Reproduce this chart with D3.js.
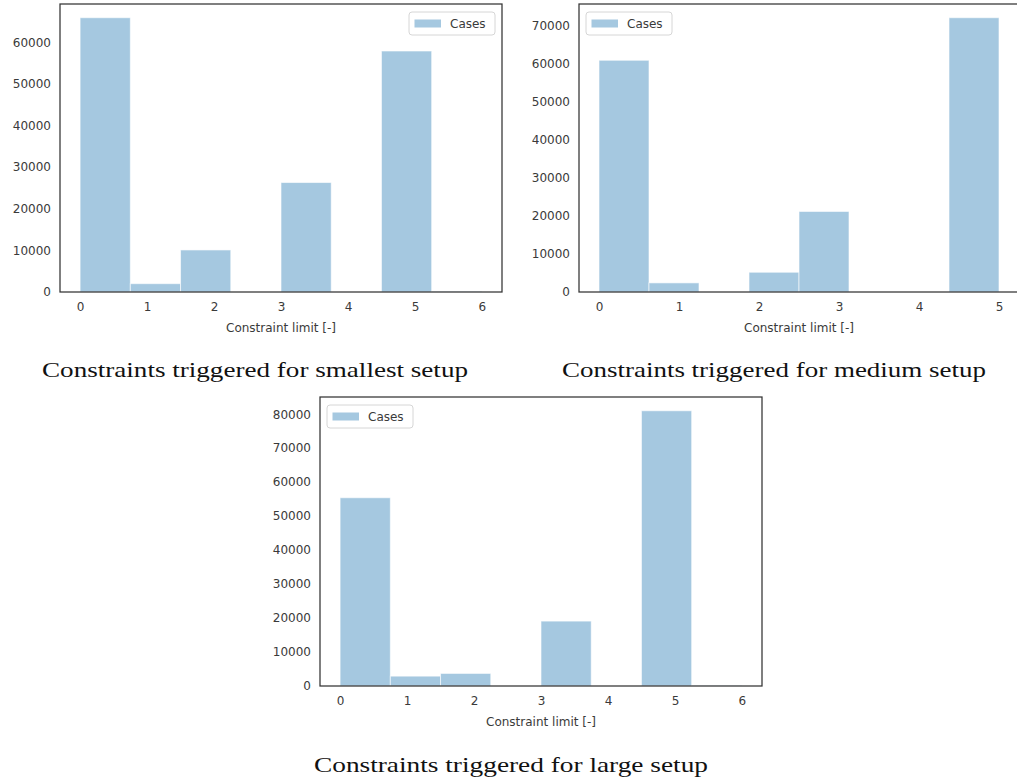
<!DOCTYPE html>
<html>
<head>
<meta charset="utf-8">
<script src="https://cdn.jsdelivr.net/npm/d3@7/dist/d3.min.js"></script>
<style>
  html, body { margin: 0; padding: 0; background: #fff; }
  svg { display: block; }
</style>
</head>
<body>
<svg id="chart" width="1017" height="780"></svg>
<script>
// ---------------- DATA ----------------
const smallEdges  = [0, 0.75, 1.5, 2.25, 3, 3.75, 4.5, 5.25, 6];
const smallCounts = [65900, 2000, 10100, 0, 26300, 0, 57900, 150];
const smallXTicks = [0, 1, 2, 3, 4, 5, 6];
const smallYTicks = [0, 10000, 20000, 30000, 40000, 50000, 60000];

const mediumEdges  = [0, 0.625, 1.25, 1.875, 2.5, 3.125, 3.75, 4.375, 5];
const mediumCounts = [61000, 2400, 0, 5200, 21200, 0, 0, 72200];
const mediumXTicks = [0, 1, 2, 3, 4, 5];
const mediumYTicks = [0, 10000, 20000, 30000, 40000, 50000, 60000, 70000];

const largeEdges  = [0, 0.75, 1.5, 2.25, 3, 3.75, 4.5, 5.25, 6];
const largeCounts = [55400, 2900, 3700, 0, 19100, 0, 81000, 150];
const largeXTicks = [0, 1, 2, 3, 4, 5, 6];
const largeYTicks = [0, 10000, 20000, 30000, 40000, 50000, 60000, 70000, 80000];

const legendLabel = "Cases";
const xLabel = "Constraint limit [-]";
const titles = [
  "Constraints triggered for smallest setup",
  "Constraints triggered for medium setup",
  "Constraints triggered for large setup"
];

// ---------------- LAYOUT ----------------
const panels = [
  { edges: smallEdges, counts: smallCounts, xt: smallXTicks, yt: smallYTicks,
    box: {l: 60, t: 4, r: 502, b: 292}, legend: "right",
    title: titles[0], tx: 255, ty: 377, tw: 426 },
  { edges: mediumEdges, counts: mediumCounts, xt: mediumXTicks, yt: mediumYTicks,
    box: {l: 579, t: 4, r: 1019, b: 292}, legend: "left",
    title: titles[1], tx: 774, ty: 377, tw: 424 },
  { edges: largeEdges, counts: largeCounts, xt: largeXTicks, yt: largeYTicks,
    box: {l: 320, t: 397, r: 762, b: 686}, legend: "left",
    title: titles[2], tx: 511, ty: 772, tw: 394 }
];

const svg = d3.select("#chart");
const barColor = "#a5c8e0";
const textColor = "#3a3a3a";
const font = "'DejaVu Sans', sans-serif";

panels.forEach(p => {
  const {l, t, r, b} = p.box;
  const lo = p.edges[0], hi = p.edges[p.edges.length - 1];
  const pad = (hi - lo) * 0.05;
  const x = d3.scaleLinear().domain([lo - pad, hi + pad]).range([l, r]);
  const ymax = d3.max(p.counts) * 1.05;
  const y = d3.scaleLinear().domain([0, ymax]).range([b, t]);

  const g = svg.append("g");

  // bars
  const bins = p.counts.map((c, i) => ({x0: p.edges[i], x1: p.edges[i + 1], c}));
  g.append("g").selectAll("rect").data(bins.filter(d => d.c > 0)).join("rect")
    .attr("x", d => x(d.x0))
    .attr("width", d => x(d.x1) - x(d.x0))
    .attr("y", d => y(d.c))
    .attr("height", d => y(0) - y(d.c))
    .attr("fill", barColor)
    .attr("stroke", "#ffffff")
    .attr("stroke-opacity", 0.6)
    .attr("stroke-width", 1);

  // axes (no tick marks, seaborn white style)
  const xAxis = d3.axisBottom(x).tickValues(p.xt).tickSize(0).tickPadding(10).tickFormat(d3.format("d"));
  const yAxis = d3.axisLeft(y).tickValues(p.yt).tickSize(0).tickPadding(9).tickFormat(d3.format("d"));

  const gx = g.append("g").attr("transform", `translate(0,${b})`).call(xAxis);
  const gy = g.append("g").attr("transform", `translate(${l},0)`).call(yAxis);
  [gx, gy].forEach(a => {
    a.select(".domain").remove();
    a.selectAll("text").attr("fill", textColor).style("font-family", font).style("font-size", "12px");
  });

  // frame
  g.append("rect")
    .attr("x", l).attr("y", t).attr("width", r - l).attr("height", b - t)
    .attr("fill", "none").attr("stroke", "#333333").attr("stroke-width", 1.25);

  // x label
  g.append("text")
    .attr("x", (l + r) / 2).attr("y", b + 40)
    .attr("text-anchor", "middle")
    .attr("fill", textColor)
    .style("font-family", font).style("font-size", "12px")
    .text(xLabel);

  // legend
  const lw = 86, lh = 23;
  const lx = p.legend === "right" ? r - 7 - lw : l + 7;
  const ly = t + 8;
  const lg = g.append("g").attr("transform", `translate(${lx},${ly})`);
  lg.append("rect").attr("width", lw).attr("height", lh).attr("rx", 3)
    .attr("fill", "#fff").attr("fill-opacity", 0.8)
    .attr("stroke", "#d6d6d6").attr("stroke-width", 1);
  lg.append("rect").attr("x", 5.5).attr("y", 7.5).attr("width", 26.5).attr("height", 8)
    .attr("fill", barColor);
  lg.append("text").attr("x", 41).attr("y", 16)
    .attr("fill", textColor)
    .style("font-family", font).style("font-size", "12px")
    .text(legendLabel);

  // caption
  svg.append("text")
    .attr("x", p.tx).attr("y", p.ty)
    .attr("text-anchor", "middle")
    .attr("fill", "#111")
    .attr("textLength", p.tw)
    .attr("lengthAdjust", "spacingAndGlyphs")
    .style("font-family", "'Liberation Serif', 'Times New Roman', serif")
    .style("font-size", "22px")
    .text(p.title);
});
</script>
</body>
</html>
